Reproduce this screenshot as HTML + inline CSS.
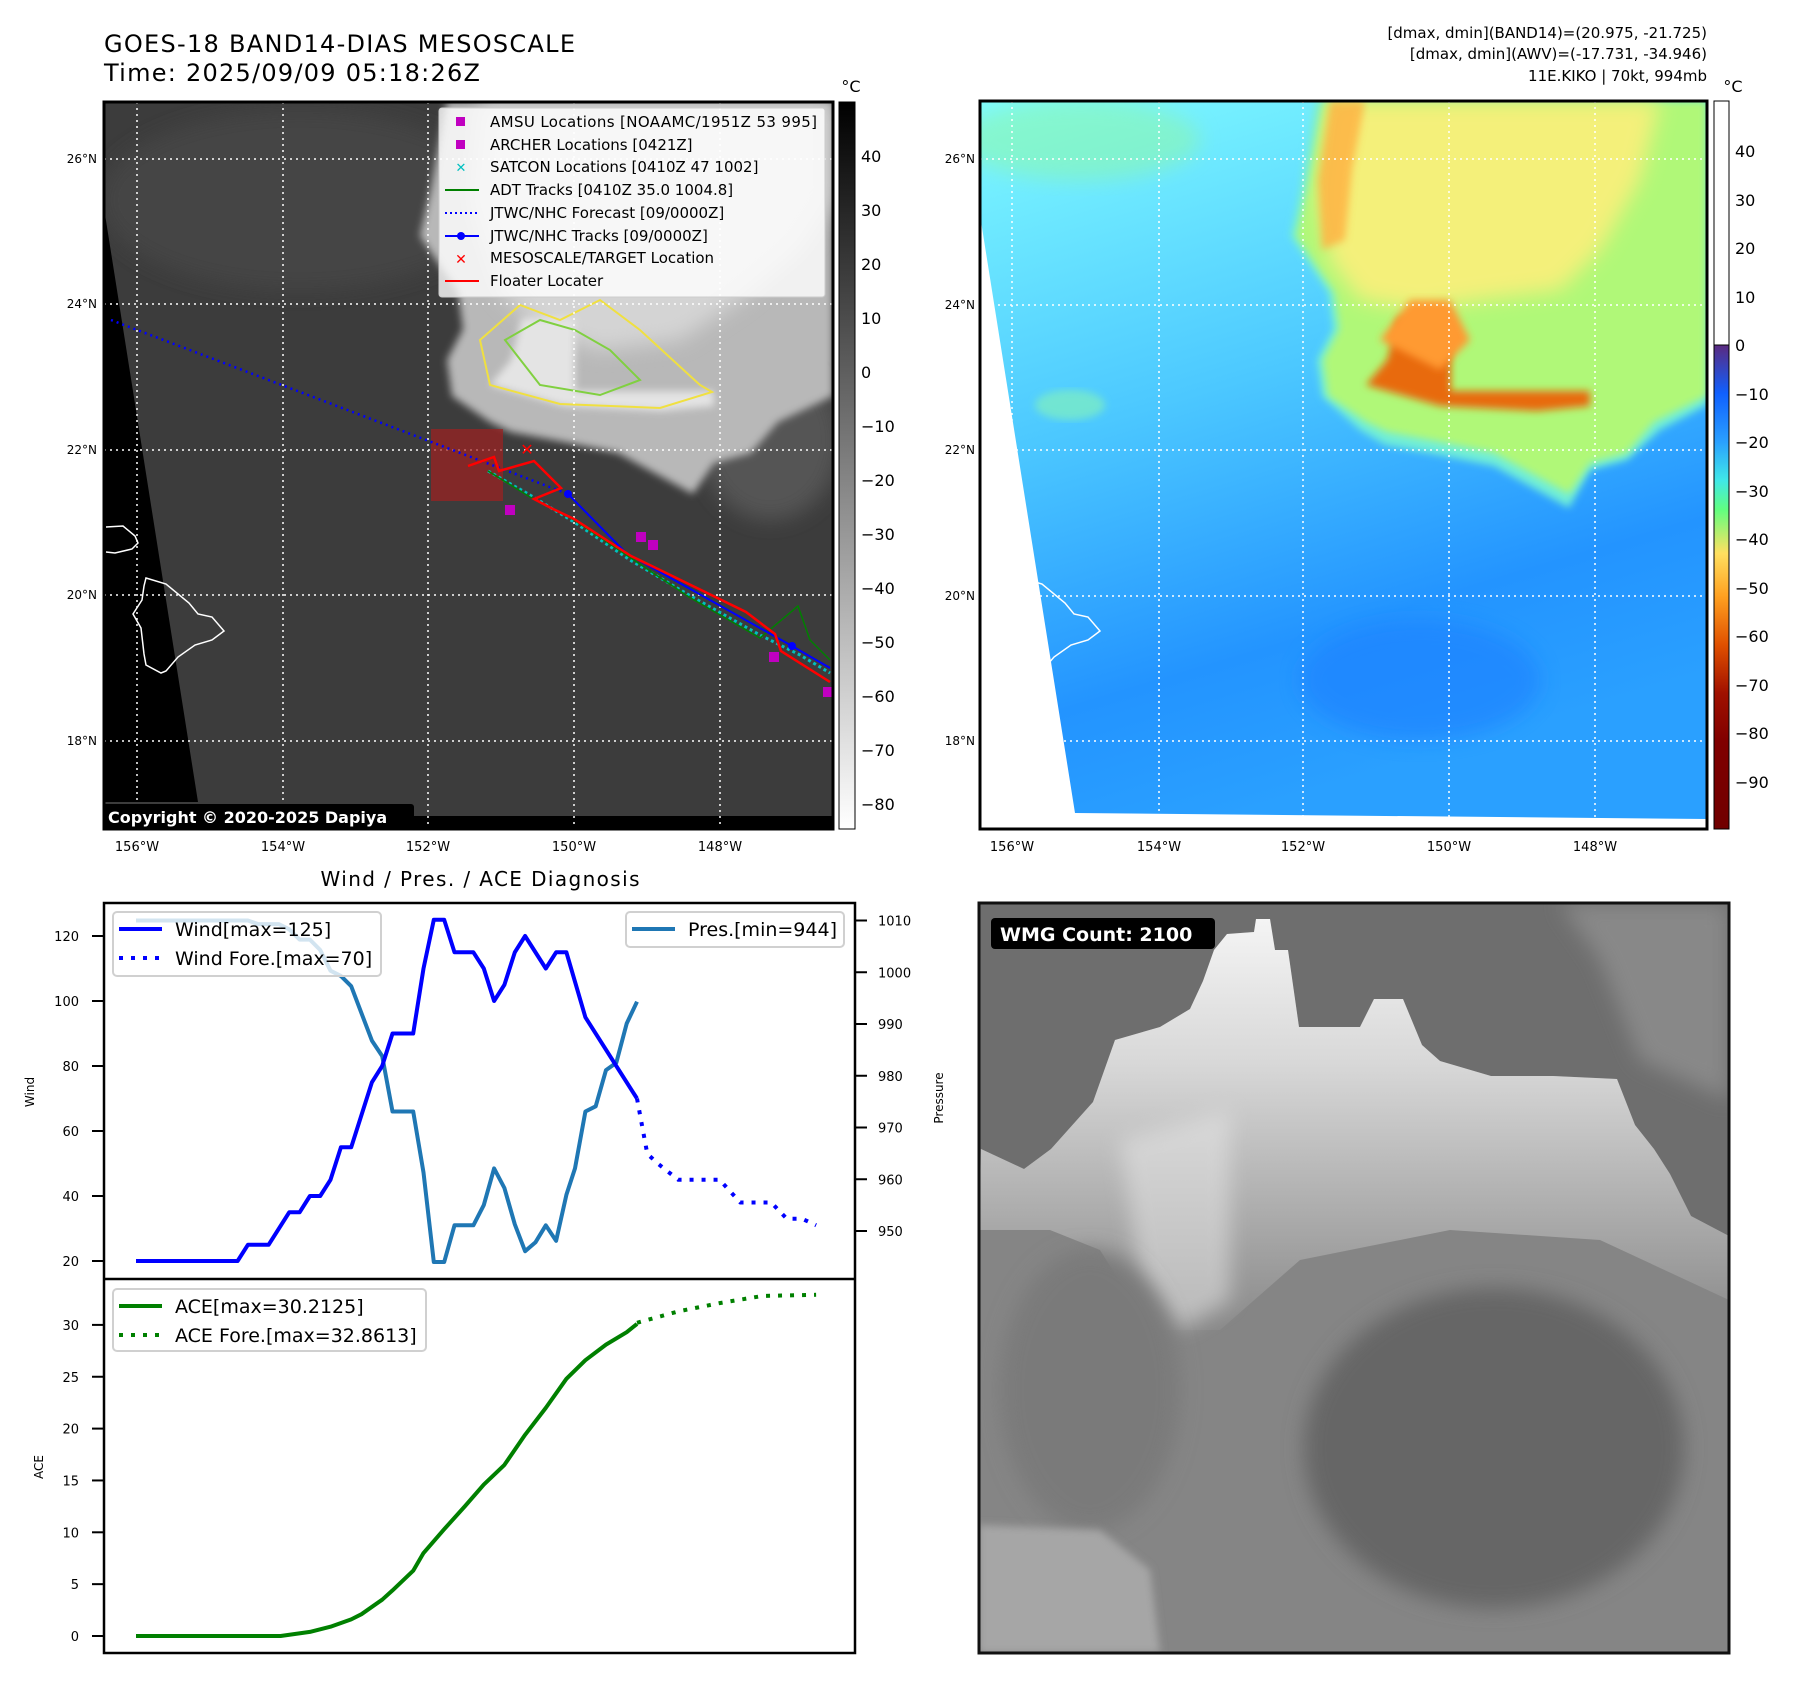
<!DOCTYPE html>
<html><head><meta charset="utf-8"><style>
body{margin:0;background:#fff;width:1797px;height:1690px;overflow:hidden}
svg{display:block;font-family:"DejaVu Sans","Liberation Sans",sans-serif}
</style></head><body>
<svg id="root" width="1797" height="1690" viewBox="0 0 1797 1690">
<defs>
<clipPath id="c1"><rect x="104" y="102" width="729" height="727"/></clipPath>
<clipPath id="c2"><rect x="980" y="101" width="727" height="728"/></clipPath>
<clipPath id="c3"><rect x="979" y="903" width="750" height="750"/></clipPath>
<filter id="bl" x="-20%" y="-20%" width="140%" height="140%"><feGaussianBlur stdDeviation="10"/></filter>
<filter id="bl2"><feGaussianBlur stdDeviation="4"/></filter>
<linearGradient id="cb1" x1="0" y1="0" x2="0" y2="1"><stop offset="0" stop-color="#000"/><stop offset="1" stop-color="#fff"/></linearGradient>
<linearGradient id="cb2" x1="0" y1="0" x2="0" y2="1">
<stop offset="0" stop-color="#5a2a80"/><stop offset="0.1" stop-color="#1060ff"/><stop offset="0.2" stop-color="#2aa0ff"/><stop offset="0.28" stop-color="#40e8e8"/><stop offset="0.34" stop-color="#60ff80"/><stop offset="0.43" stop-color="#ffe060"/><stop offset="0.52" stop-color="#ffa020"/><stop offset="0.62" stop-color="#e05000"/><stop offset="0.72" stop-color="#a01000"/><stop offset="0.82" stop-color="#800000"/><stop offset="1" stop-color="#700000"/></linearGradient>
<linearGradient id="sea2" x1="0" y1="0" x2="0.3" y2="1"><stop offset="0" stop-color="#80fbff"/><stop offset="0.45" stop-color="#4cc8ff"/><stop offset="0.8" stop-color="#2394ff"/><stop offset="1" stop-color="#2aa0ff"/></linearGradient>
<linearGradient id="wmgw" x1="0" y1="0" x2="0" y2="1"><stop offset="0" stop-color="#f4f4f4"/><stop offset="0.35" stop-color="#d8d8d8"/><stop offset="1" stop-color="#8a8a8a"/></linearGradient>
</defs>

<text x="104" y="52" font-size="24" textLength="471">GOES-18 BAND14-DIAS MESOSCALE</text>
<text x="104" y="81" font-size="24" textLength="376">Time: 2025/09/09 05:18:26Z</text>
<g font-size="15" text-anchor="end">
<text x="1707" y="38">[dmax, dmin](BAND14)=(20.975, -21.725)</text>
<text x="1707" y="59">[dmax, dmin](AWV)=(-17.731, -34.946)</text>
<text x="1707" y="81">11E.KIKO | 70kt, 994mb</text>
</g>

<!-- MAP 1 -->
<g clip-path="url(#c1)">
<rect x="104" y="102" width="729" height="727" fill="#3c3c3c"/>
<ellipse cx="300" cy="200" rx="200" ry="90" fill="#444" filter="url(#bl)"/>
<ellipse cx="770" cy="440" rx="70" ry="80" fill="#555" filter="url(#bl)"/>
<path d="M447,101 L431,189 L420,236 L458,292 L463,329 L447,360 L452,396 L490,422 L511,432 L564,442 L618,453 L693,494 L714,463 L751,453 L778,422 L833,396 L833,101Z" fill="#b8b8b8" filter="url(#bl2)"/>
<path d="M480,101 L470,200 L500,290 L540,330 L600,350 L680,340 L740,300 L800,250 L833,200 L833,101Z" fill="#d4d4d4" filter="url(#bl)"/>
<path d="M522,318 L575,318 L575,391 L714,391 L714,406 L661,411 L564,406 L490,385 L511,360Z" fill="#e4e4e4" filter="url(#bl2)"/>
<path d="M480,340 L520,305 L560,320 L600,300 L640,330 L700,385 L712,392 L660,408 L560,404 L490,385Z" fill="none" stroke="#f0e040" stroke-width="2"/>
<path d="M505,340 L540,320 L575,330 L610,350 L640,380 L600,395 L540,385Z" fill="none" stroke="#80d040" stroke-width="2"/>
<path d="M104,102 L104,208 L198,802 L104,802Z" fill="#000"/>
<rect x="104" y="816" width="729" height="14" fill="#000"/>
<path d="M146,578 L166,584 L189,603 L198,614 L212,617 L224,631 L212,640 L195,645 L178,657 L166,671 L161,673 L146,665 L144,654 L141,628 L133,614 L142,600 L144,586Z" fill="none" stroke="#fff" stroke-width="1.5"/>
<path d="M106,527 L123,526 L135,536 L138,543 L132,549 L115,553 L106,552" fill="none" stroke="#fff" stroke-width="1.5"/>
<g stroke="#fff" stroke-width="1.5" stroke-dasharray="2,4">
<line x1="104" y1="159" x2="833" y2="159"/><line x1="104" y1="304" x2="833" y2="304"/><line x1="104" y1="450" x2="833" y2="450"/><line x1="104" y1="595" x2="833" y2="595"/><line x1="104" y1="741" x2="833" y2="741"/>
<line x1="137" y1="102" x2="137" y2="829"/><line x1="283" y1="102" x2="283" y2="829"/><line x1="428" y1="102" x2="428" y2="829"/><line x1="574" y1="102" x2="574" y2="829"/><line x1="720" y1="102" x2="720" y2="829"/>
</g>
<rect x="431" y="429" width="72" height="72" fill="#a02020" opacity="0.7"/>
<polyline points="111,320 568,494" fill="none" stroke="#0000ff" stroke-width="2.5" stroke-dasharray="2,4"/>
<polyline points="488,471 530,495 574,522 630,560 689,595 760,635 800,655 830,673" fill="none" stroke="#00c0c0" stroke-width="3" stroke-dasharray="3,3"/>
<polyline points="488,471 530,497 574,520 689,597 760,638 798,606 810,640 830,660" fill="none" stroke="#008000" stroke-width="1.5"/>
<polyline points="568,494 626,553 792,646 830,668" fill="none" stroke="#0000ff" stroke-width="2"/>
<circle cx="568" cy="494" r="4" fill="#0000ff"/><circle cx="792" cy="646" r="4" fill="#0000ff"/>
<polyline points="468,466 494,457 499,471 534,461 561,488 534,499 551,508 574,519 631,556 660,570 746,612 775,634 781,651 830,682" fill="none" stroke="#ff0000" stroke-width="2.5"/>
<text x="527" y="455" fill="#ff0000" font-size="16" font-weight="bold" text-anchor="middle">✕</text>
<g fill="#c000c0"><rect x="505" y="505" width="10" height="10"/><rect x="636" y="532" width="10" height="10"/><rect x="648" y="540" width="10" height="10"/><rect x="769" y="652" width="10" height="10"/><rect x="823" y="687" width="10" height="10"/></g>
<rect x="102" y="804" width="312" height="27" rx="3" fill="#000"/>
<text x="108" y="823" fill="#fff" font-size="16" font-weight="bold">Copyright © 2020-2025 Dapiya</text>
</g>
<rect x="104" y="102" width="729" height="727" fill="none" stroke="#000" stroke-width="3"/>
<g>
<rect x="439" y="108" width="386" height="189" rx="3" fill="#fff" fill-opacity="0.8" stroke="#ccc"/>
<g font-size="15">
<rect x="456" y="117" width="9" height="9" fill="#c000c0"/><text x="490" y="127" textLength="327">AMSU Locations [NOAAMC/1951Z 53 995]</text>
<rect x="456" y="140" width="9" height="9" fill="#c000c0"/><text x="490" y="150">ARCHER Locations [0421Z]</text>
<text x="461" y="172" fill="#00c0c0" font-size="13" text-anchor="middle" font-weight="bold">✕</text><text x="490" y="172">SATCON Locations [0410Z 47 1002]</text>
<line x1="445" y1="190" x2="479" y2="190" stroke="#008000" stroke-width="2"/><text x="490" y="195">ADT Tracks [0410Z 35.0 1004.8]</text>
<line x1="445" y1="213" x2="479" y2="213" stroke="#0000ff" stroke-width="2" stroke-dasharray="2,3"/><text x="490" y="218">JTWC/NHC Forecast [09/0000Z]</text>
<line x1="445" y1="236" x2="479" y2="236" stroke="#0000ff" stroke-width="2"/><circle cx="461" cy="236" r="4" fill="#0000ff"/><text x="490" y="241">JTWC/NHC Tracks [09/0000Z]</text>
<text x="461" y="264" fill="#ff0000" font-size="14" text-anchor="middle" font-weight="bold">✕</text><text x="490" y="263">MESOSCALE/TARGET Location</text>
<line x1="445" y1="281" x2="479" y2="281" stroke="#ff0000" stroke-width="2"/><text x="490" y="286">Floater Locater</text>
</g></g>
<rect x="839" y="102" width="16" height="727" fill="url(#cb1)" stroke="#000" stroke-width="1"/>
<text x="851" y="92" font-size="16" text-anchor="middle">°C</text>
<g font-size="16">
<text x="861" y="162">40</text><text x="861" y="216">30</text><text x="861" y="270">20</text><text x="861" y="324">10</text><text x="861" y="378">0</text><text x="861" y="432">−10</text><text x="861" y="486">−20</text><text x="861" y="540">−30</text><text x="861" y="594">−40</text><text x="861" y="648">−50</text><text x="861" y="702">−60</text><text x="861" y="756">−70</text><text x="861" y="810">−80</text>
</g>
<g font-size="12" text-anchor="end">
<text x="97" y="163">26°N</text><text x="97" y="308">24°N</text><text x="97" y="454">22°N</text><text x="97" y="599">20°N</text><text x="97" y="745">18°N</text></g>
<g font-size="13" text-anchor="middle">
<text x="137" y="851">156°W</text><text x="283" y="851">154°W</text><text x="428" y="851">152°W</text><text x="574" y="851">150°W</text><text x="720" y="851">148°W</text></g>

<!-- MAP 2 -->
<g clip-path="url(#c2)">
<rect x="980" y="101" width="727" height="728" fill="url(#sea2)"/>
<ellipse cx="1080" cy="140" rx="120" ry="40" fill="#90f8a0" filter="url(#bl)" opacity="0.5"/>
<ellipse cx="1070" cy="405" rx="35" ry="15" fill="#80f0c0" filter="url(#bl2)" opacity="0.7"/>
<ellipse cx="1420" cy="680" rx="120" ry="60" fill="#1c80ff" filter="url(#bl)" opacity="0.6"/>
<path d="M1315,101 L1300,189 L1290,236 L1328,292 L1333,329 L1317,360 L1322,396 L1360,430 L1385,445 L1440,455 L1494,466 L1569,508 L1590,470 L1627,460 L1660,430 L1707,405 L1707,101Z" fill="#70eed8" filter="url(#bl2)"/>
<path d="M1323,101 L1307,189 L1296,236 L1334,292 L1339,329 L1323,360 L1328,396 L1366,422 L1387,432 L1440,442 L1494,453 L1569,494 L1590,463 L1627,453 L1654,422 L1707,396 L1707,101Z" fill="#b0f878" filter="url(#bl2)"/>
<path d="M1330,101 L1318,200 L1330,260 L1360,300 L1420,310 L1480,300 L1560,290 L1600,250 L1640,180 L1660,101Z" fill="#f4f07a" filter="url(#bl)"/>
<path d="M1330,101 L1318,180 L1322,250 L1345,240 L1352,170 L1365,101Z" fill="#ffb040" filter="url(#bl2)" opacity="0.8"/>
<path d="M1398,318 L1451,318 L1451,391 L1590,391 L1590,406 L1537,411 L1440,406 L1366,385 L1387,360Z" fill="#e86a10" filter="url(#bl2)"/>
<path d="M1380,340 L1410,300 L1450,300 L1470,340 L1440,370Z" fill="#ff9a30" filter="url(#bl2)"/>
<path d="M980,101 L980,215 L1075,813 L1707,819 L1707,829 L980,829Z" fill="#fff"/>
<path d="M1022,578 L1042,584 L1065,603 L1074,614 L1088,617 L1100,631 L1088,640 L1071,645 L1054,657 L1042,671" fill="none" stroke="#fff" stroke-width="1.5"/>
<g stroke="#fff" stroke-width="1.5" stroke-dasharray="2,4">
<line x1="980" y1="159" x2="1707" y2="159"/><line x1="980" y1="305" x2="1707" y2="305"/><line x1="980" y1="450" x2="1707" y2="450"/><line x1="980" y1="596" x2="1707" y2="596"/><line x1="980" y1="741" x2="1707" y2="741"/>
<line x1="1012" y1="101" x2="1012" y2="829"/><line x1="1159" y1="101" x2="1159" y2="829"/><line x1="1303" y1="101" x2="1303" y2="829"/><line x1="1449" y1="101" x2="1449" y2="829"/><line x1="1595" y1="101" x2="1595" y2="829"/>
</g>
</g>
<rect x="980" y="101" width="727" height="728" fill="none" stroke="#000" stroke-width="3"/>
<rect x="1714" y="101" width="15" height="244" fill="#fff" stroke="#000" stroke-width="1"/>
<rect x="1714" y="345" width="15" height="484" fill="url(#cb2)" stroke="#000" stroke-width="1"/>
<text x="1733" y="92" font-size="16" text-anchor="middle">°C</text>
<g font-size="16">
<text x="1735" y="157">40</text><text x="1735" y="206">30</text><text x="1735" y="254">20</text><text x="1735" y="303">10</text><text x="1735" y="351">0</text><text x="1735" y="400">−10</text><text x="1735" y="448">−20</text><text x="1735" y="497">−30</text><text x="1735" y="545">−40</text><text x="1735" y="594">−50</text><text x="1735" y="642">−60</text><text x="1735" y="691">−70</text><text x="1735" y="739">−80</text><text x="1735" y="788">−90</text>
</g>
<g font-size="12" text-anchor="end">
<text x="975" y="163">26°N</text><text x="975" y="309">24°N</text><text x="975" y="454">22°N</text><text x="975" y="600">20°N</text><text x="975" y="745">18°N</text></g>
<g font-size="13" text-anchor="middle">
<text x="1012" y="851">156°W</text><text x="1159" y="851">154°W</text><text x="1303" y="851">152°W</text><text x="1449" y="851">150°W</text><text x="1595" y="851">148°W</text></g>

<!-- WMG -->
<g clip-path="url(#c3)">
<rect x="979" y="903" width="750" height="750" fill="#858585"/>
<path d="M979,903 L1729,903 L1729,1236 L1691,1216 L1670,1174 L1654,1149 L1635,1125 L1617,1079 L1553,1076 L1491,1076 L1440,1061 L1422,1045 L1403,999 L1374,999 L1360,1027 L1299,1027 L1288,950 L1275,950 L1270,919 L1256,919 L1254,932 L1227,934 L1214,950 L1203,981 L1190,1009 L1160,1027 L1115,1040 L1093,1102 L1051,1149 L1024,1169 L981,1149 L979,1149Z" fill="#6e6e6e"/>
<path d="M1560,903 L1729,903 L1729,1100 L1640,1060 L1600,960Z" fill="#888" filter="url(#bl)"/>
<path d="M981,1149 L1024,1169 L1051,1149 L1093,1102 L1115,1040 L1160,1027 L1190,1009 L1203,981 L1214,950 L1227,934 L1254,932 L1256,919 L1270,919 L1275,950 L1288,950 L1299,1027 L1360,1027 L1374,999 L1403,999 L1422,1045 L1440,1061 L1491,1076 L1553,1076 L1617,1079 L1635,1125 L1654,1149 L1670,1174 L1691,1216 L1729,1236 L1729,1300 L1600,1240 L1450,1230 L1300,1260 L1220,1330 L1150,1330 L1100,1250 L1050,1230 L979,1230Z" fill="url(#wmgw)"/>
<path d="M1120,1140 L1230,1110 L1230,1300 L1180,1330 L1140,1280Z" fill="#e8e8e8" opacity="0.5" filter="url(#bl)"/>
<ellipse cx="1494" cy="1448" rx="190" ry="160" fill="#666" filter="url(#bl)"/>
<ellipse cx="1090" cy="1390" rx="90" ry="140" fill="#7a7a7a" filter="url(#bl)"/>
<path d="M979,1525 L1100,1530 L1150,1570 L1160,1653 L979,1653Z" fill="#a6a6a6" filter="url(#bl2)"/>
<rect x="991" y="918" width="224" height="31" rx="4" fill="#000"/>
<text x="1000" y="941" fill="#fff" font-size="19" font-weight="bold">WMG Count: 2100</text>
</g>
<rect x="979" y="903" width="750" height="750" fill="none" stroke="#111" stroke-width="3"/>

<!-- CHART -->
<text x="480" y="886" font-size="20" text-anchor="middle" textLength="319">Wind / Pres. / ACE Diagnosis</text>
<g id="chart"></g>
</svg>
<script>
const windT=[0,59,65,77,89,95,101,107,113,119,125,137,143,149,161,167,173,179,185,196,202,208,214,220,226,238,244,250,261,291];
const windV=[20,20,25,25,35,35,40,40,45,55,55,75,80,90,90,110,125,125,115,115,110,100,105,115,120,110,115,115,95,70];
const windFT=[291,297,303,315,339,351,369,378,387,395];
const windFV=[70,53,50,45,45,38,38,33,33,31];
const presT=[0,65,71,83,89,95,101,107,113,119,125,137,143,149,161,167,173,179,185,196,202,208,214,220,226,232,238,244,250,255,261,267,273,279,285,291];
const presV=[1010,1010,1009.3,1009.3,1008.3,1006.3,1006.3,1004.3,1000.3,999.3,997.3,986.8,983.8,973.1,973.1,961.3,944,944,951.1,951.1,955,962.1,958.3,951.3,946.1,947.8,951.1,948.1,957,962.1,973.1,974.1,981.1,982.5,990.1,994.3];
const aceT=[0,84,101,113,125,131,143,149,161,167,179,191,202,214,226,238,250,261,273,285,291];
const aceV=[0,0,0.4,0.9,1.6,2.1,3.5,4.4,6.3,8.0,10.3,12.5,14.6,16.5,19.4,22.0,24.8,26.6,28.1,29.3,30.1];
const aceFT=[291,315,339,364,395];
const aceFV=[30.2,31.3,32.1,32.8,32.9];
const windTicks=[20,40,60,80,100,120];
const presTicks=[950,960,970,980,990,1000,1010];
const aceTicks=[0,5,10,15,20,25,30];

const NS='http://www.w3.org/2000/svg';
const g=document.getElementById('chart');
const tx=t=>136+t*(501/291);
const wy=w=>1261-(w-20)*3.25;
const py=p=>1231-(p-950)*5.175;
const ay=a=>1636-a*10.37;
function mk(tag,at){const e=document.createElementNS(NS,tag);for(const k in at)e.setAttribute(k,at[k]);g.appendChild(e);return e;}
function line(ts,vs,fy,color,dash,name){
  const pts=ts.map((t,i)=>tx(t).toFixed(1)+','+fy(vs[i]).toFixed(1)).join(' ');
  const e=mk('polyline',{points:pts,fill:'none',stroke:color,'stroke-width':4,'stroke-linejoin':'round'});
  if(dash)e.setAttribute('stroke-dasharray',dash);
  
  
}
mk('rect',{x:104,y:903,width:751,height:750,fill:'#fff'});
line(presT,presV,py,'#1f77b4',null,'pressure-line');
line(windT,windV,wy,'#0000ff',null,'wind-line');
line(windFT,windFV,wy,'#0000ff','4,8','wind-forecast-line');
line(aceT,aceV,ay,'#008000',null,'ace-line');
line(aceFT,aceFV,ay,'#008000','4,8','ace-forecast-line');
mk('rect',{x:104,y:903,width:751,height:750,fill:'none',stroke:'#000','stroke-width':2.5});
mk('line',{x1:104,y1:1279,x2:855,y2:1279,stroke:'#000','stroke-width':2.5});
function ticks(arr,fy,side,name){
  arr.forEach(v=>{
    const y=fy(v);
    if(side==='l'){mk('line',{x1:92,y1:y,x2:104,y2:y,stroke:'#000','stroke-width':2});
      const t=mk('text',{x:79,y:y+5,'font-size':13,'text-anchor':'end'});t.textContent=v;
      
      }
    else{mk('line',{x1:855,y1:y,x2:867,y2:y,stroke:'#000','stroke-width':2});
      const t=mk('text',{x:878,y:y+5,'font-size':13});t.textContent=v;
      
      }
  });
}
ticks(windTicks,wy,'l','wind-tick-label');
ticks(presTicks,py,'r','pressure-tick-label');
ticks(aceTicks,ay,'l','ace-tick-label');
function ylab(x,y,txt,name){const t=mk('text',{x:x,y:y,'font-size':12,'text-anchor':'middle',transform:`rotate(-90 ${x} ${y})`});t.textContent=txt;
  
  }
ylab(34,1092,'Wind','wind-axis-title');
ylab(943,1098,'Pressure','pressure-axis-title');
ylab(43,1467,'ACE','ace-axis-title');
function legend(x,y,w,h,items,name){
  const r=mk('rect',{x:x,y:y,width:w,height:h,rx:4,fill:'#fff','fill-opacity':0.8,stroke:'#d0d0d0','stroke-width':2});
  
  
  items.forEach((it,i)=>{
    const yy=y+17+i*29;
    const l=mk('line',{x1:x+6,y1:yy,x2:x+49,y2:yy,stroke:it[1],'stroke-width':4});
    if(it[2])l.setAttribute('stroke-dasharray','4,8');
    const t=mk('text',{x:x+62,y:yy+7,'font-size':19});t.textContent=it[0];
  });
}
legend(113,912,268,64,[['Wind[max=125]','#0000ff',0],['Wind Fore.[max=70]','#0000ff',1]],'wind-legend');
legend(626,912,218,35,[['Pres.[min=944]','#1f77b4',0]],'pressure-legend');
legend(113,1289,313,62,[['ACE[max=30.2125]','#008000',0],['ACE Fore.[max=32.8613]','#008000',1]],'ace-legend');
</script>
</body></html>
